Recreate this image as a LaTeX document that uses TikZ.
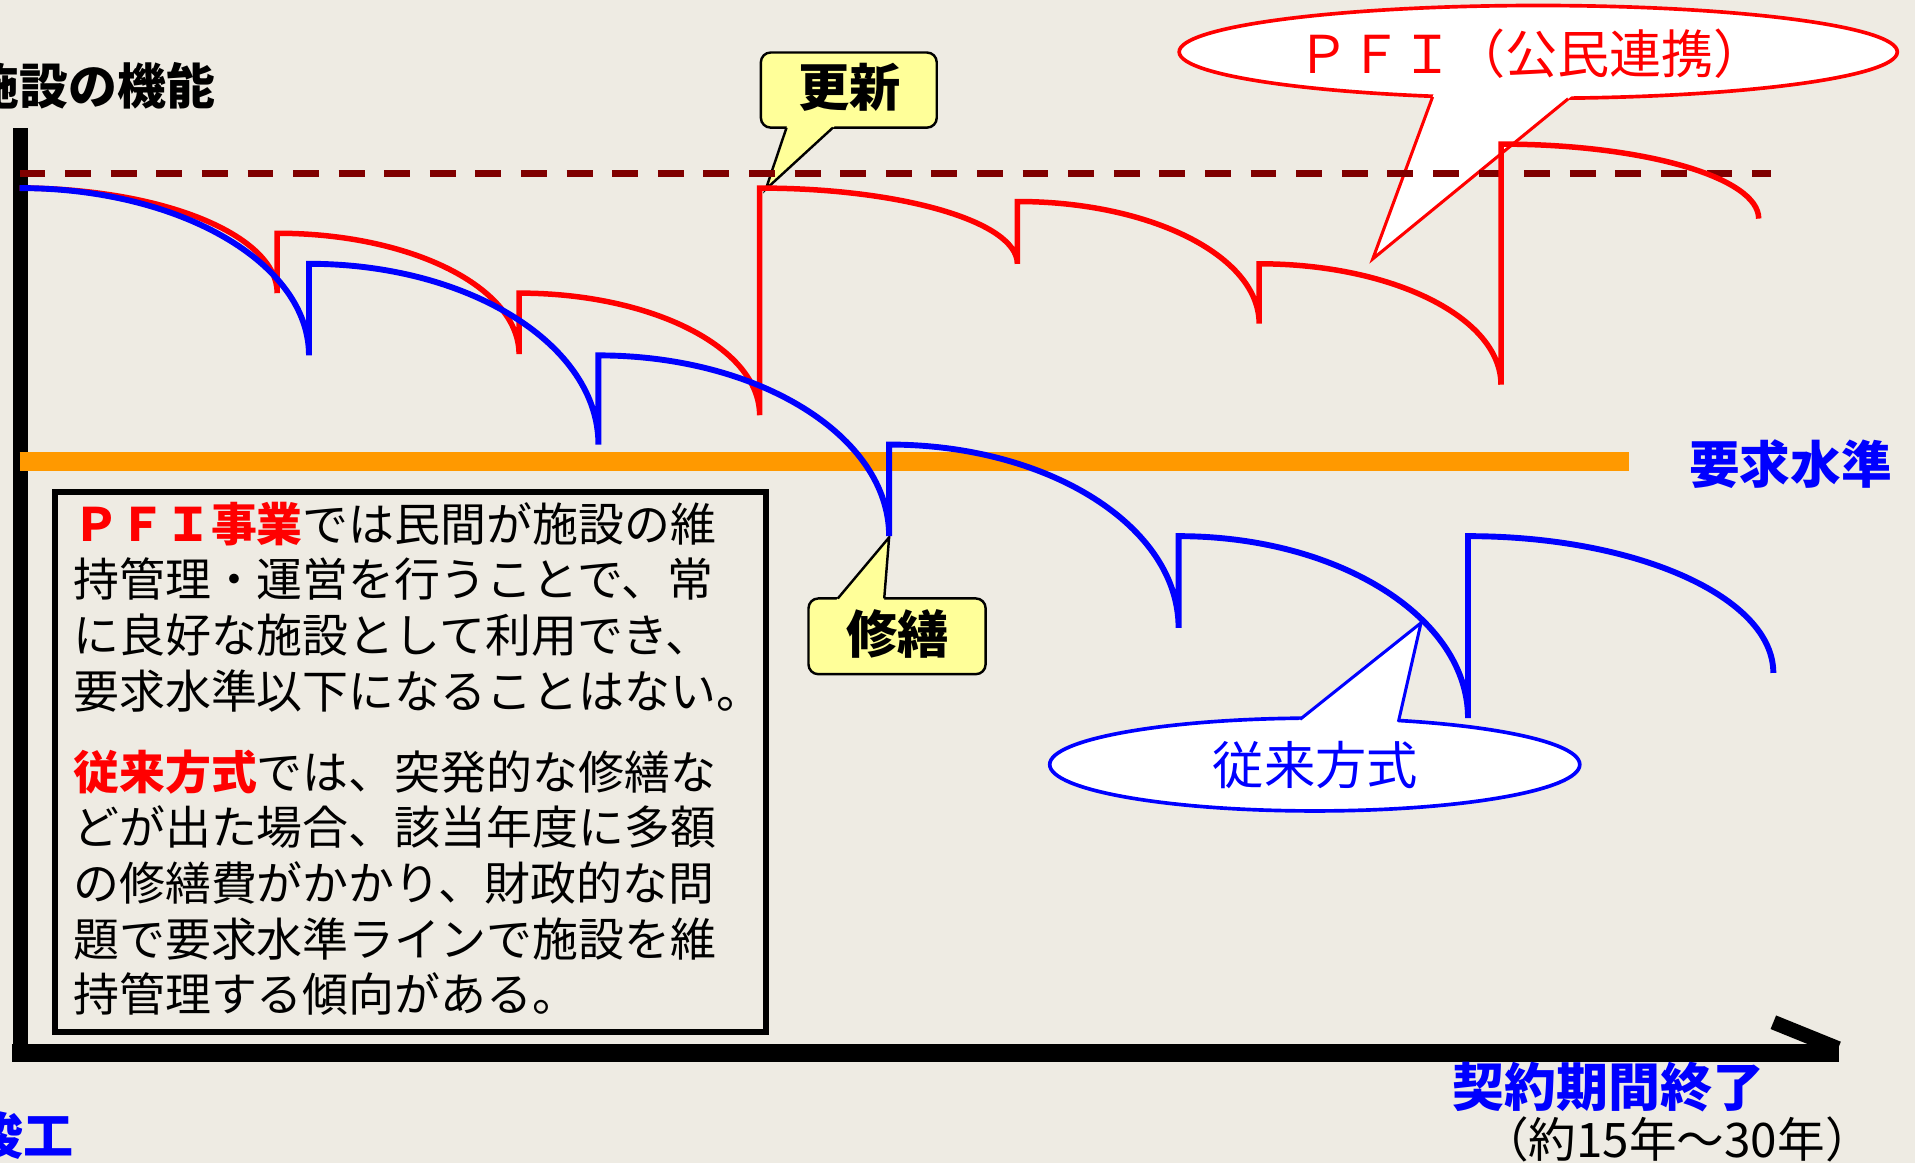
\documentclass[tikz,border=0pt]{standalone}
\usepackage{fontspec}
\newfontfamily\cjk{Noto Sans CJK JP}
\usetikzlibrary{shapes.geometric,calc}
\definecolor{bg}{RGB}{238,235,227}
\definecolor{pfired}{RGB}{255,0,0}
\definecolor{jblue}{RGB}{0,0,255}
\definecolor{reqorange}{RGB}{255,153,0}
\definecolor{dashred}{RGB}{128,0,0}
\definecolor{calloutyellow}{RGB}{255,255,153}
\tikzset{
  jp/.style={inner sep=0pt, outer sep=0pt, anchor=base, font={\cjk\fontsize{#1}{#1}\selectfont}},
  jpb/.style={inner sep=0pt, outer sep=0pt, anchor=base, font={\cjk\bfseries\fontsize{#1}{#1}\selectfont}},
  boxline/.style={jp=22.56pt, anchor=base west},
  rectcallout/.style={draw=black, line width=1.2pt, fill=calloutyellow, rounded corners=4.8pt, inner sep=0pt},
  ellcallout/.style={ellipse, fill=white, line width=1.8pt, inner sep=0pt},
  pfiline/.style={pfired, line width=2.7pt},
  oldline/.style={jblue, line width=2.9pt},
}
\begin{document}
\begin{tikzpicture}[x=0.6pt,y=-0.6pt,line join=miter]
\useasboundingbox (0,0) rectangle (1568,952);
\fill[bg] (0,0) rectangle (1568,952);

% axes
\coordinate (ytop) at (16.5,105);
\coordinate (ybot) at (16.5,869);
\coordinate (xstart) at (10,862);
\coordinate (xend) at (1506,862);
\coordinate (barb) at (1452,837);
\coordinate (barbend) at (1505,858.5);
\draw[line width=7.5pt] (ytop) -- (ybot);
\draw[line width=8.7pt] (xstart) -- (xend);
\draw[line width=7.2pt] (barb) -- (barbend);

% callout: 更新
\node[rectcallout, minimum width=86.4pt, minimum height=36.9pt] (updbox) at (695,73.75) {};
\coordinate (updtip) at (627,155);
\coordinate (updb1) at (644,104.5);
\coordinate (updb2) at (682,104.5);
\fill[calloutyellow] ($(updtip)!1.08!(updb1)$) -- (updtip) -- ($(updtip)!1.08!(updb2)$) -- cycle;
\draw[line width=1.2pt] (updb1) -- (updtip) -- (updb2);
\node[jpb=25.2pt] (updtext) at (695.5,87.5) {更新};

% callout: 修繕
\node[rectcallout, minimum width=87pt, minimum height=37.2pt] (repbox) at (734.5,521) {};
\coordinate (reptip) at (728,440);
\coordinate (repb1) at (686,490);
\coordinate (repb2) at (724,490);
\fill[calloutyellow] ($(reptip)!1.08!(repb1)$) -- (reptip) -- ($(reptip)!1.08!(repb2)$) -- cycle;
\draw[line width=1.2pt] (repb1) -- (reptip) -- (repb2);
\node[jpb=25.2pt] (reptext) at (735,535) {修繕};

% callout: PFI
\node[ellcallout, draw=pfired, minimum width=352.8pt, minimum height=45.6pt] (pfiell) at (1259.5,42.5) {};
\coordinate (pfitip) at (1124,212);
\coordinate (pfib1) at (1173,79.3);
\coordinate (pfib2) at (1284,80.9);
\fill[white] ($(pfitip)!1.08!(pfib1)$) -- (pfitip) -- ($(pfitip)!1.08!(pfib2)$) -- cycle;
\draw[pfired, line width=1.5pt] (pfib1) -- (pfitip) -- (pfib2);
\node[jp=25.6pt, text=pfired] (pfitext) at (1254,59.8) {ＰＦＩ（公民連携）};

% callout: 従来方式
\node[ellcallout, draw=jblue, minimum width=260.4pt, minimum height=45.6pt] (oldell) at (1076.5,626) {};
\coordinate (oldtip) at (1163.5,510);
\coordinate (oldb1) at (1064.5,589);
\coordinate (oldb2) at (1145,591);
\fill[white] ($(oldtip)!1.08!(oldb1)$) -- (oldtip) -- ($(oldtip)!1.08!(oldb2)$) -- cycle;
\draw[jblue, line width=1.5pt] (oldb1) -- (oldtip) -- (oldb2);
\node[jp=25.2pt, text=jblue] (oldtext) at (1077,642) {従来方式};

% reference lines
\coordinate (dstart) at (16,142);
\coordinate (dend) at (1450,142);
\draw[dashred, line width=3.3pt, dash pattern=on 12.7pt off 9.7pt] (dstart) -- (dend);
\coordinate (ostart) at (16,378);
\coordinate (oend) at (1334,378);
\draw[reqorange, line width=9pt] (ostart) -- (oend);

% PFI curve (red)
\draw[pfiline]
  (16,154) .. controls (132.5,154) and (227,192.5) .. (227,240)
  (227,240) -- (227,191) .. controls (336.4,191) and (425,235.3) .. (425,290)
  (425,290) -- (425,240) .. controls (533.8,240) and (622,284.8) .. (622,340)
  (622,340) -- (622,154) .. controls (738.5,154) and (833,181.8) .. (833,216)
  (833,216) -- (833,165) .. controls (942.4,165) and (1031,209.8) .. (1031,265)
  (1031,265) -- (1031,216) .. controls (1140.4,216) and (1229,260.3) .. (1229,315)
  (1229,315) -- (1229,118) .. controls (1345.5,118) and (1440,145.3) .. (1440,179);

% conventional curve (blue)
\draw[oldline]
  (16,154) .. controls (146.9,154) and (253,215.3) .. (253,291)
  (253,291) -- (253,216) .. controls (383.9,216) and (490,282.3) .. (490,364)
  (490,364) -- (490,291) .. controls (621.4,291) and (728,357.3) .. (728,439)
  (728,439) -- (728,364) .. controls (858.9,364) and (965,431.2) .. (965,514)
  (965,514) -- (965,439) .. controls (1095.9,439) and (1202,505.7) .. (1202,588)
  (1202,588) -- (1202,439) .. controls (1340.1,439) and (1452,489.1) .. (1452,551);

% description box
\node[draw=black, line width=2.7pt, minimum width=349.2pt, minimum height=265.2pt, inner sep=0pt] (desc) at (336,624) {};
\node[boxline] (l1) at (60,443.3) {{\color{pfired}\bfseries ＰＦＩ事業}では民間が施設の維};
\node[boxline] (l2) at (60,488.8) {持管理・運営を行うことで、常};
\node[boxline] (l3) at (60,534.3) {に良好な施設として利用でき、};
\node[boxline] (l4) at (60,579.8) {要求水準以下になることはない。};
\node[boxline] (l5) at (60,646.3) {{\color{pfired}\bfseries 従来方式}では、突発的な修繕な};
\node[boxline] (l6) at (60,691.8) {どが出た場合、該当年度に多額};
\node[boxline] (l7) at (60,737.3) {の修繕費がかかり、財政的な問};
\node[boxline] (l8) at (60,782.8) {題で要求水準ラインで施設を維};
\node[boxline] (l9) at (60,828.3) {持管理する傾向がある。};

% axis labels
\node[jpb=24pt, anchor=base east] (ylabel) at (176,85.2) {施設の機能};
\node[jpb=24.9pt, text=jblue] (reqlabel) at (1466,395.8) {要求水準};
\node[jpb=24.6pt, text=jblue, anchor=base east] (startlabel) at (60,945.6) {竣工};
\node[jpb=25.5pt, text=jblue] (endlabel) at (1317,905.7) {契約期間終了};
\node[jp=23.4pt] (endnote) at (1373,947.6) {（約15年～30年）};
\end{tikzpicture}
\end{document}
